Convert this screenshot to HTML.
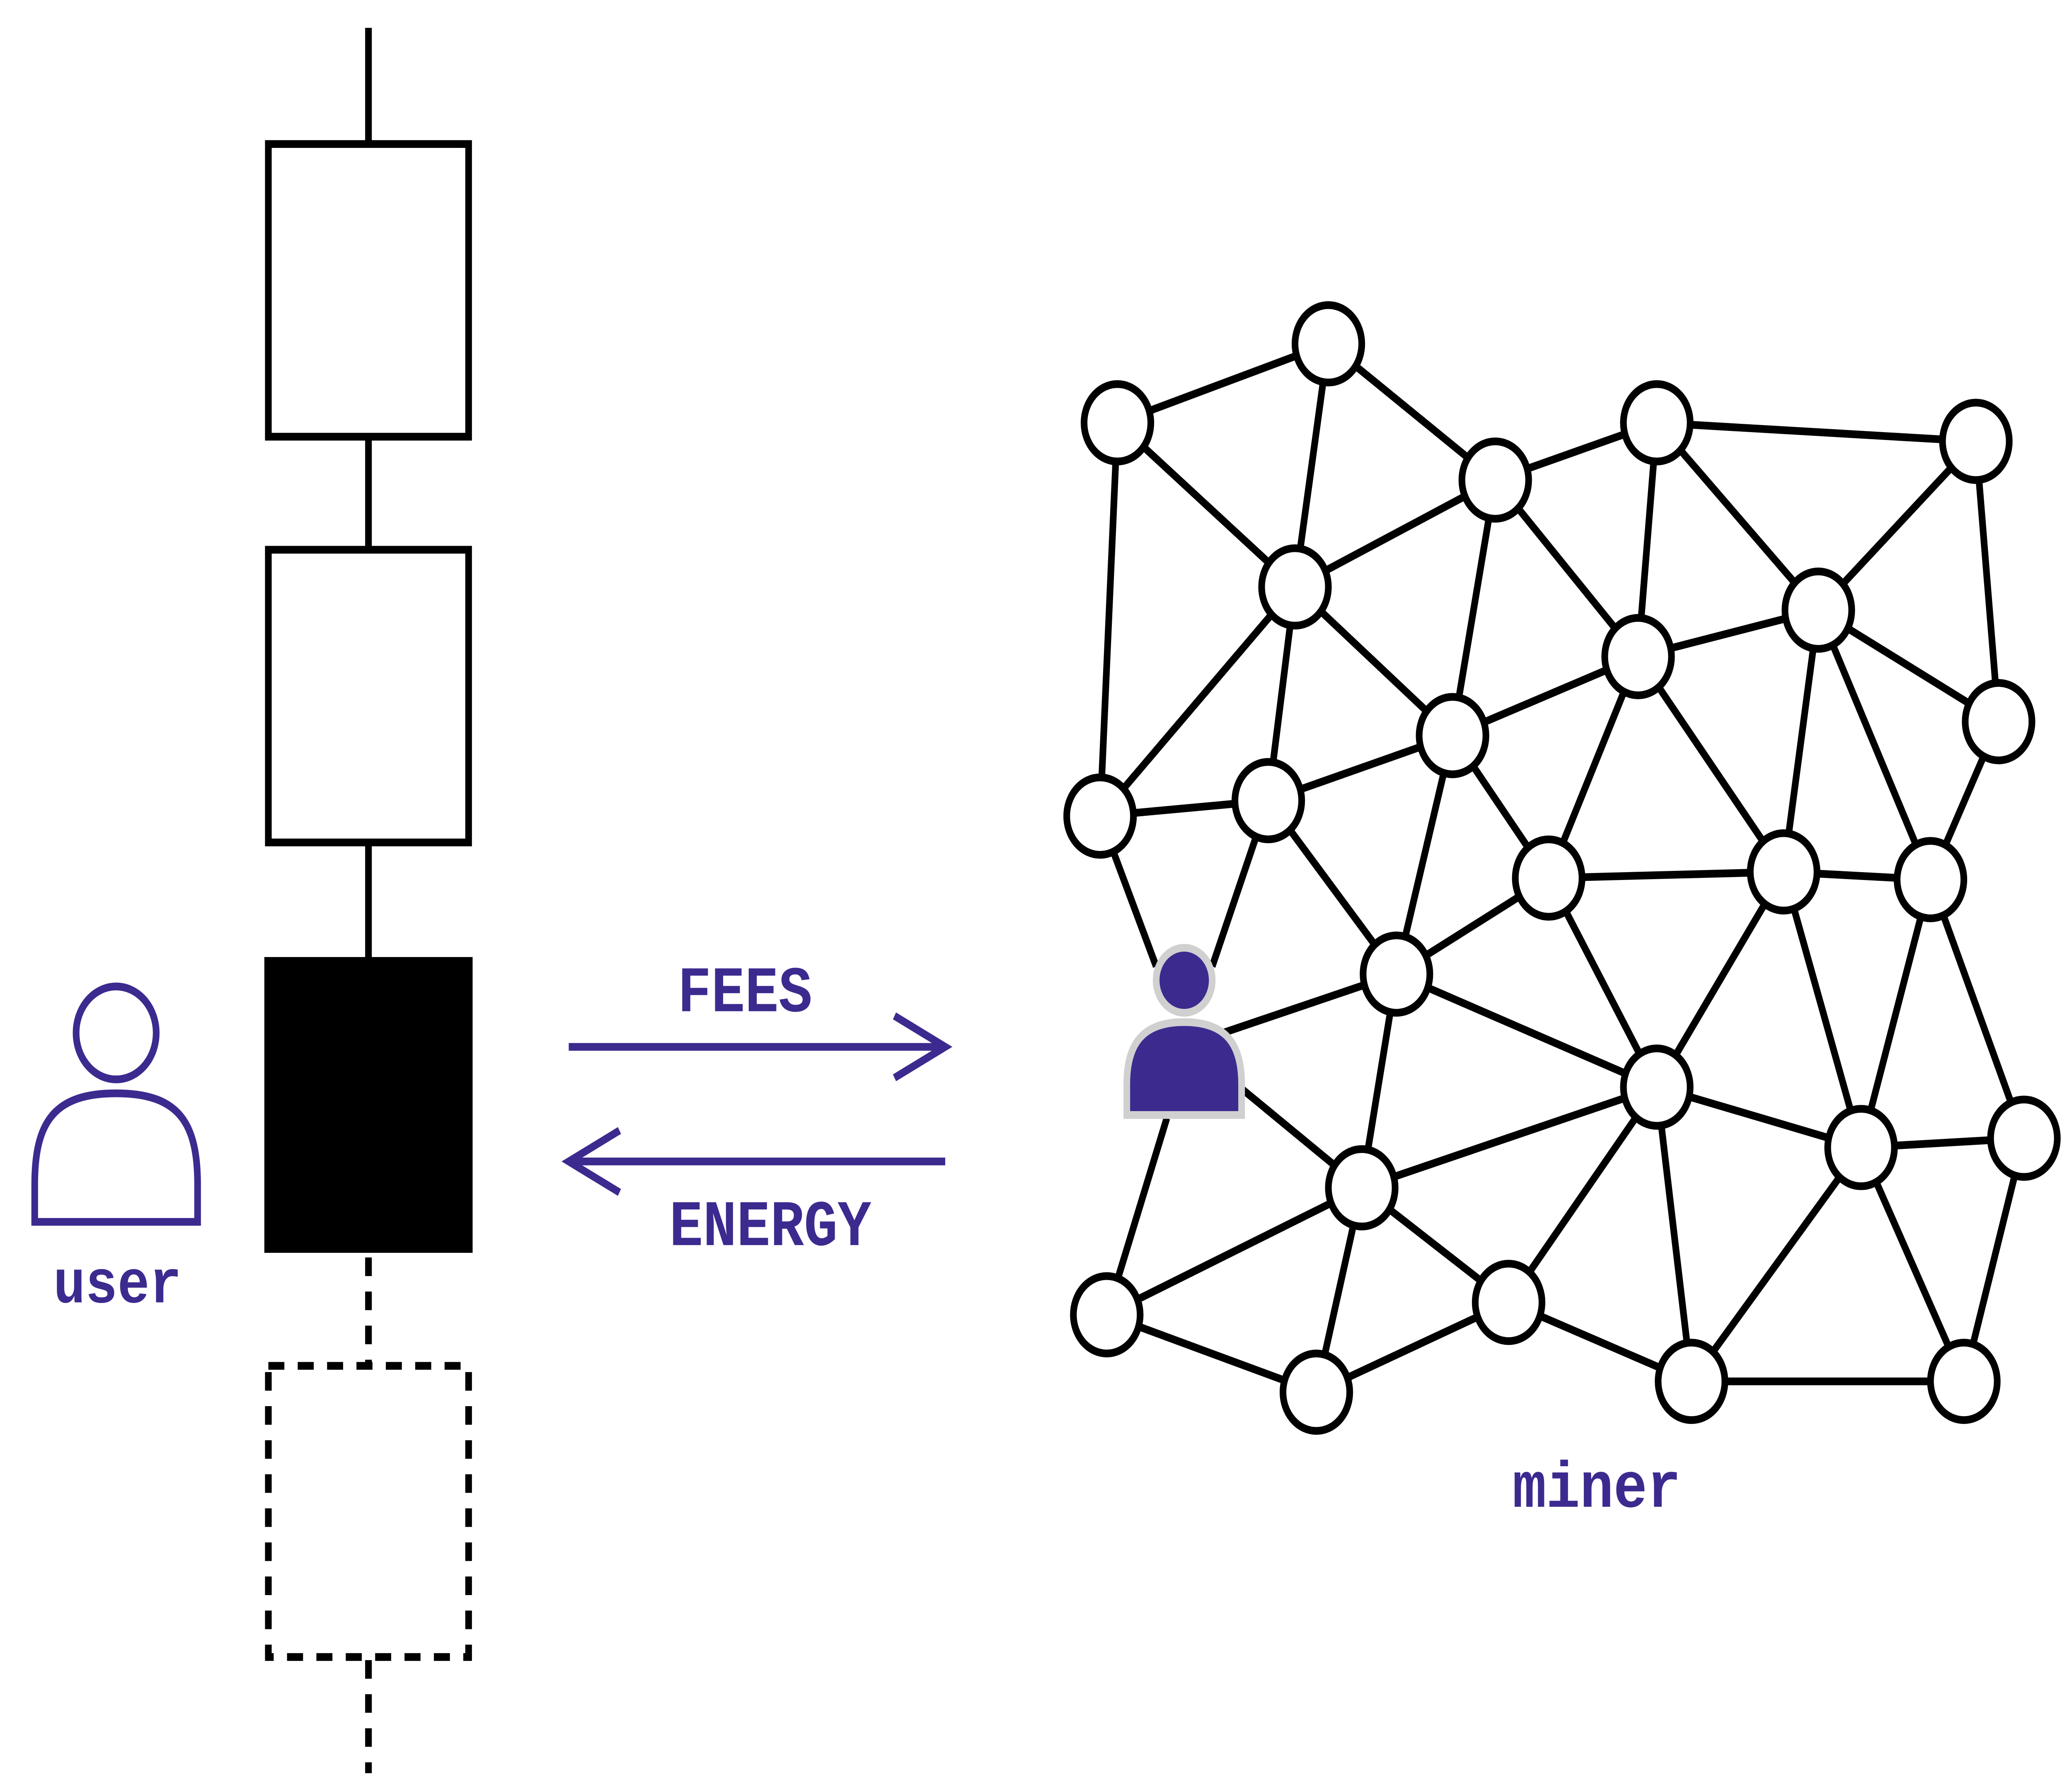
<!DOCTYPE html>
<html><head><meta charset="utf-8"><style>
html,body{margin:0;padding:0;background:#fff;width:100%;height:100%;overflow:hidden;}
svg{display:block;width:100vw;height:100vh;}
text{font-family:"Liberation Mono",monospace;font-weight:bold;fill:#3d2a8f;}
</style></head><body>
<svg viewBox="0 0 1552 1152" preserveAspectRatio="none" xmlns="http://www.w3.org/2000/svg">
<rect width="1552" height="1152" fill="#fff"/>
<g stroke="#000" stroke-width="5" fill="none">
<line x1="276" y1="18" x2="276" y2="93"/>
<rect x="201" y="93" width="150" height="189" fill="#fff"/>
<line x1="276" y1="282" x2="276" y2="355"/>
<rect x="201" y="355" width="150" height="189" fill="#fff"/>
<line x1="276" y1="544" x2="276" y2="618"/>
<rect x="198" y="618" width="156" height="191" fill="#000" stroke="none"/>
<g stroke-dasharray="12,10">
<line x1="276" y1="812" x2="276" y2="882"/>
<rect x="201" y="882" width="150" height="188"/>
<line x1="276" y1="1072" x2="276" y2="1145"/>
</g>
</g>
<g stroke="#3d2a8f" stroke-width="5" fill="none">
<circle cx="87" cy="667" r="30"/>
<path d="M26,789 L26,765 C26,725 40,706 87,706 C134,706 148,725 148,765 L148,789 Z"/>
</g>
<text x="88" y="841" font-size="40" text-anchor="middle">user</text>
<g stroke="#3d2a8f" stroke-width="5" fill="none">
<line x1="426" y1="676" x2="706" y2="676"/>
<polyline points="670,656 708,676 670,696"/>
<line x1="708" y1="750" x2="428" y2="750"/>
<polyline points="464,730 426,750 464,770"/>
</g>
<text x="558" y="653" font-size="42" text-anchor="middle">FEES</text>
<text x="577" y="804" font-size="42" text-anchor="middle">ENERGY</text>
<text x="1196" y="973" font-size="42" text-anchor="middle">miner</text>
<g stroke="#000" stroke-width="5">
<line x1="837" y1="273" x2="995" y2="222"/>
<line x1="995" y1="222" x2="1120" y2="310"/>
<line x1="1120" y1="310" x2="1241" y2="273"/>
<line x1="1241" y1="273" x2="1480" y2="285"/>
<line x1="837" y1="273" x2="970" y2="379"/>
<line x1="837" y1="273" x2="824" y2="527"/>
<line x1="995" y1="222" x2="970" y2="379"/>
<line x1="970" y1="379" x2="1120" y2="310"/>
<line x1="1120" y1="310" x2="1227" y2="424"/>
<line x1="1120" y1="310" x2="1088" y2="475"/>
<line x1="1241" y1="273" x2="1227" y2="424"/>
<line x1="1241" y1="273" x2="1362" y2="394"/>
<line x1="1480" y1="285" x2="1362" y2="394"/>
<line x1="1480" y1="285" x2="1497" y2="466"/>
<line x1="1362" y1="394" x2="1227" y2="424"/>
<line x1="1362" y1="394" x2="1497" y2="466"/>
<line x1="970" y1="379" x2="1088" y2="475"/>
<line x1="970" y1="379" x2="824" y2="527"/>
<line x1="970" y1="379" x2="950" y2="517"/>
<line x1="1088" y1="475" x2="1227" y2="424"/>
<line x1="1088" y1="475" x2="950" y2="517"/>
<line x1="950" y1="517" x2="824" y2="527"/>
<line x1="824" y1="527" x2="866" y2="624"/>
<line x1="950" y1="517" x2="908" y2="624"/>
<line x1="950" y1="517" x2="1046" y2="629"/>
<line x1="1088" y1="475" x2="1046" y2="629"/>
<line x1="1088" y1="475" x2="1160" y2="567"/>
<line x1="1227" y1="424" x2="1160" y2="567"/>
<line x1="1227" y1="424" x2="1336" y2="563"/>
<line x1="1362" y1="394" x2="1336" y2="563"/>
<line x1="1362" y1="394" x2="1446" y2="568"/>
<line x1="1497" y1="466" x2="1446" y2="568"/>
<line x1="1160" y1="567" x2="1336" y2="563"/>
<line x1="1336" y1="563" x2="1446" y2="568"/>
<line x1="1160" y1="567" x2="1046" y2="629"/>
<line x1="1160" y1="567" x2="1241" y2="702"/>
<line x1="1336" y1="563" x2="1241" y2="702"/>
<line x1="1336" y1="563" x2="1394" y2="741"/>
<line x1="1446" y1="568" x2="1394" y2="741"/>
<line x1="1446" y1="568" x2="1516" y2="735"/>
<line x1="916" y1="667" x2="1046" y2="629"/>
<line x1="1046" y1="629" x2="1241" y2="702"/>
<line x1="1046" y1="629" x2="1020" y2="767"/>
<line x1="930" y1="703" x2="1020" y2="767"/>
<line x1="874" y1="722" x2="829" y2="849"/>
<line x1="1020" y1="767" x2="829" y2="849"/>
<line x1="1020" y1="767" x2="986" y2="899"/>
<line x1="1020" y1="767" x2="1130" y2="841"/>
<line x1="1020" y1="767" x2="1241" y2="702"/>
<line x1="1241" y1="702" x2="1130" y2="841"/>
<line x1="1241" y1="702" x2="1267" y2="892"/>
<line x1="1241" y1="702" x2="1394" y2="741"/>
<line x1="1394" y1="741" x2="1516" y2="735"/>
<line x1="1394" y1="741" x2="1267" y2="892"/>
<line x1="1394" y1="741" x2="1471" y2="892"/>
<line x1="1516" y1="735" x2="1471" y2="892"/>
<line x1="1267" y1="892" x2="1471" y2="892"/>
<line x1="829" y1="849" x2="986" y2="899"/>
<line x1="986" y1="899" x2="1130" y2="841"/>
<line x1="1130" y1="841" x2="1267" y2="892"/>
</g>
<g stroke="#000" stroke-width="5" fill="#fff">
<circle cx="837" cy="273" r="25"/><circle cx="995" cy="222" r="25"/>
<circle cx="1120" cy="310" r="25"/><circle cx="1241" cy="273" r="25"/>
<circle cx="1480" cy="285" r="25"/><circle cx="970" cy="379" r="25"/>
<circle cx="1227" cy="424" r="25"/><circle cx="1362" cy="394" r="25"/>
<circle cx="1497" cy="466" r="25"/><circle cx="1088" cy="475" r="25"/>
<circle cx="824" cy="527" r="25"/><circle cx="950" cy="517" r="25"/>
<circle cx="1160" cy="567" r="25"/><circle cx="1336" cy="563" r="25"/>
<circle cx="1446" cy="568" r="25"/><circle cx="1046" cy="629" r="25"/>
<circle cx="1241" cy="702" r="25"/><circle cx="1394" cy="741" r="25"/>
<circle cx="1516" cy="735" r="25"/><circle cx="1020" cy="767" r="25"/>
<circle cx="829" cy="849" r="25"/><circle cx="986" cy="899" r="25"/>
<circle cx="1130" cy="841" r="25"/><circle cx="1267" cy="892" r="25"/>
<circle cx="1471" cy="892" r="25"/>
</g>
<g stroke="#d0d0d0" stroke-width="5" fill="#3d2a8f">
<circle cx="887" cy="633" r="21"/>
<path d="M844,720 L844,700 C844,672 858,660 887,660 C916,660 930,672 930,700 L930,720 Z"/>
</g>
</svg>
</body></html>
